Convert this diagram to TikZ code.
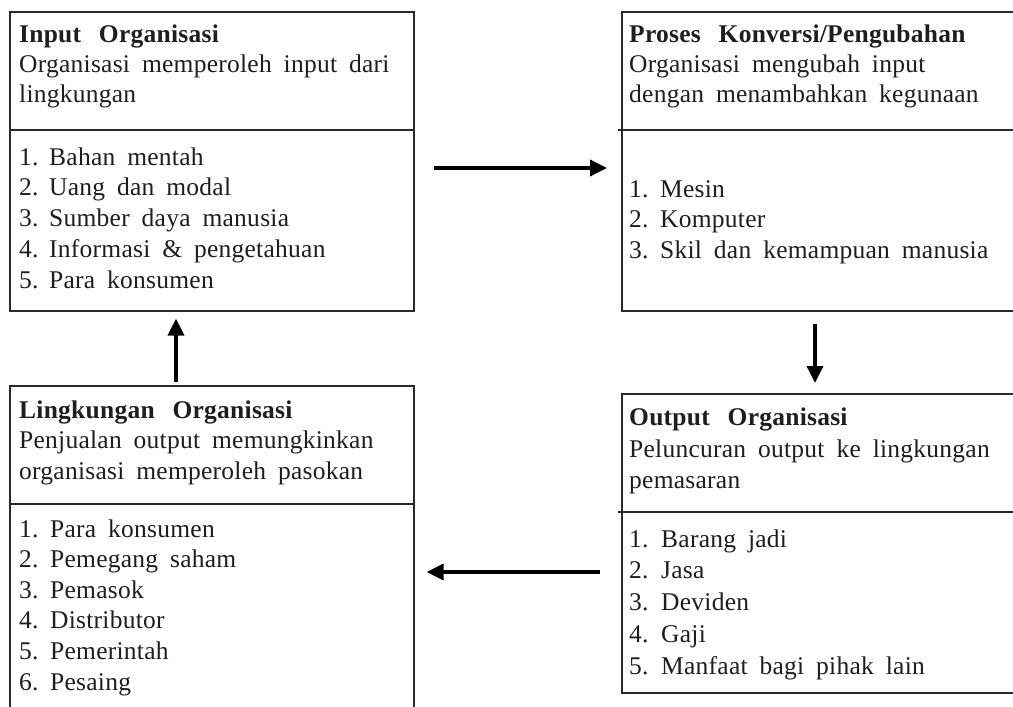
\documentclass[tikz,border=0pt]{standalone}
\usepackage{fontspec}
\setmainfont[LetterSpace=1,WordSpace=1.8]{Liberation Serif}
\usetikzlibrary{arrows.meta}
\definecolor{ink}{HTML}{1E1E1E}
\definecolor{frame}{HTML}{2A2A2A}

\begin{document}
\begin{tikzpicture}[x=1pt,y=-1pt,
  panel/.style={draw=frame, line width=1.6pt, rectangle, inner sep=0pt, anchor=north west},
  rule/.style={draw=frame, line width=1.6pt},
  txt/.style={anchor=base west, inner sep=0pt, text=ink, font=\fontsize{25.5}{30}\selectfont},
  head/.style={txt, font=\fontsize{25.5}{30}\selectfont\bfseries},
  arr/.style={draw=black, line width=3.6pt, -{Triangle[length=17pt,width=16pt]}}]

\useasboundingbox (0,0) rectangle (1013,707);
\clip (0,0) rectangle (1013,707);

% the four panels
\node[panel, minimum width=404pt, minimum height=299pt] (b1) at (9,11) {};
\node[panel, minimum width=410pt, minimum height=299pt] (b2) at (621,11) {};
\node[panel, minimum width=404pt, minimum height=340pt] (b3) at (9,385) {};
\node[panel, minimum width=410pt, minimum height=299pt] (b4) at (621,393) {};

% dividers between heading and list
\draw[rule] (b1.west |- 0,130) -- (b1.east |- 0,130);
\draw[rule, shorten <=-3pt] (b2.west |- 0,130) -- (b2.east |- 0,130);
\draw[rule] (b3.west |- 0,504) -- (b3.east |- 0,504);
\draw[rule, shorten <=-3pt] (b4.west |- 0,512) -- (b4.east |- 0,512);

% Input Organisasi
\node[head] (h1) at (19,42) {Input\hspace{0.7em}Organisasi};
\node[txt] (d1a) at (19,72) {Organisasi memperoleh input dari};
\node[txt] (d1b) at (19,102) {lingkungan};
\foreach \t [count=\i] in {Bahan mentah, Uang dan modal, Sumber daya manusia, Informasi \& pengetahuan, Para konsumen}
  \node[txt] (i1\i) at (19,165+30.8*\i-30.8) {\makebox[30pt][l]{\i.}\t};

% Proses Konversi/Pengubahan
\node[head] (h2) at (629,42) {Proses\hspace{0.7em}Konversi/Pengubahan};
\node[txt] (d2a) at (629,72) {Organisasi mengubah input};
\node[txt] (d2b) at (629,102) {dengan menambahkan kegunaan};
\foreach \t [count=\i] in {Mesin, Komputer, Skil dan kemampuan manusia}
  \node[txt] (i2\i) at (629,197+30.6*\i-30.6) {\makebox[31pt][l]{\i.}\t};

% Lingkungan Organisasi
\node[head] (h3) at (19,418) {Lingkungan\hspace{0.7em}Organisasi};
\node[txt] (d3a) at (19,448) {Penjualan output memungkinkan};
\node[txt] (d3b) at (19,479) {organisasi memperoleh pasokan};
\foreach \t [count=\i] in {Para konsumen, Pemegang saham, Pemasok, Distributor, Pemerintah, Pesaing}
  \node[txt] (i3\i) at (19,537+30.6*\i-30.6) {\makebox[31pt][l]{\i.}\t};

% Output Organisasi
\node[head] (h4) at (629,425) {Output\hspace{0.7em}Organisasi};
\node[txt] (d4a) at (629,457) {Peluncuran output ke lingkungan};
\node[txt] (d4b) at (629,488) {pemasaran};
\foreach \t [count=\i] in {Barang jadi, Jasa, Deviden, Gaji, Manfaat bagi pihak lain}
  \node[txt] (i4\i) at (629,547+31.8*\i-31.8) {\makebox[32pt][l]{\i.}\t};

% flow arrows
\draw[arr, shorten <=19pt, shorten >=14pt] (b1.east |- 0,168) -- (b2.west |- 0,168);
\draw[arr, shorten <=12pt, shorten >=10pt] (b2.south -| 815,0) -- (b4.north -| 815,0);
\draw[arr, shorten <=21pt, shorten >=12pt] (b4.west |- 0,572) -- (b3.east |- 0,572);
\draw[arr, shorten <=3pt, shorten >=7pt] (b3.north -| 176,0) -- (b1.south -| 176,0);
\end{tikzpicture}
\end{document}
